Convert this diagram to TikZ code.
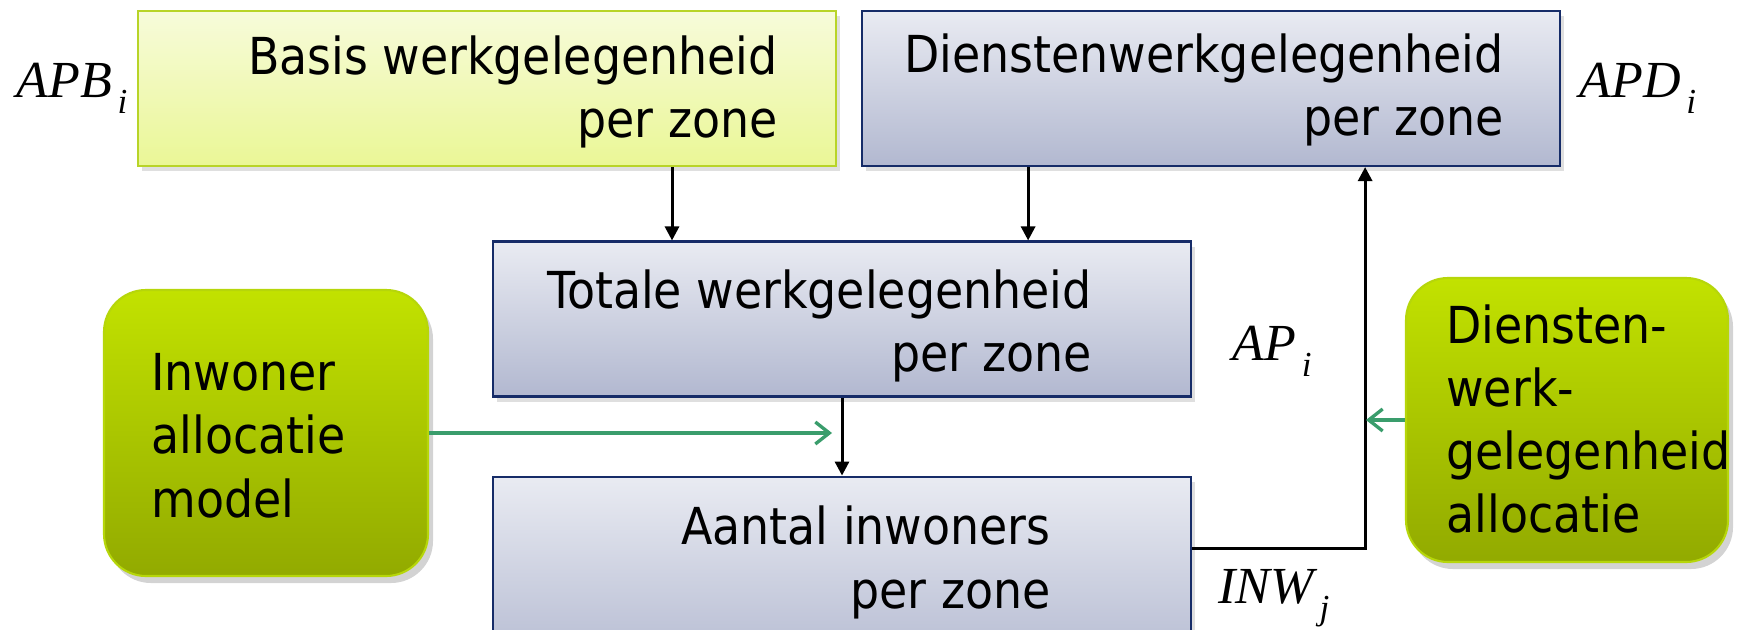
\documentclass[tikz,border=0pt]{standalone}
\usepackage{fontspec}
\setmainfont{DejaVu Sans Condensed}
\newfontfamily\varfont{Liberation Serif}
\usetikzlibrary{positioning,arrows.meta,shadows}

\definecolor{geelboven}{RGB}{247,251,218}
\definecolor{geelonder}{RGB}{234,247,150}
\definecolor{geelrand}{RGB}{184,212,40}
\definecolor{blauwboven}{RGB}{233,235,242}
\definecolor{blauwonder}{RGB}{178,184,208}
\definecolor{blauwrand}{RGB}{22,44,104}
\definecolor{groenboven}{RGB}{194,226,0}
\definecolor{groenonder}{RGB}{146,170,0}
\definecolor{groenrand}{RGB}{182,214,10}
\definecolor{pijlgroen}{RGB}{58,157,108}

% variabele met verlaagd subscript
\newcommand{\zvar}[2]{{\varfont\itshape\fontsize{14.8}{16}\selectfont #1\raisebox{-0.32em}{\fontsize{10}{10}\selectfont\,#2}}}

\tikzset{
  box/.style={rectangle, minimum width=6.98cm, minimum height=1.55cm, inner sep=0pt, line width=0.6pt,
    drop shadow={opacity=0.25, shadow xshift=0.04cm, shadow yshift=-0.05cm}},
  geel/.style={box, draw=geelrand, top color=geelboven, bottom color=geelonder},
  blauw/.style={box, draw=blauwrand, top color=blauwboven, bottom color=blauwonder},
  model/.style={rectangle, rounded corners=0.42cm, inner sep=0pt, line width=0.6pt, draw=groenrand,
    top color=groenboven, bottom color=groenonder,
    drop shadow={opacity=0.35, shadow xshift=0.05cm, shadow yshift=-0.07cm}},
  tekst/.style={inner sep=0pt, font=\fontsize{14.5}{18}\selectfont},
  groenpijl/.style={draw=pijlgroen, line width=0.95pt, -{Straight Barb[length=0.14cm,width=0.22cm]}}
}

\begin{document}
\begin{tikzpicture}[>={Triangle[length=0.14cm,width=0.14cm]}, line width=0.85pt]
		\useasboundingbox (0,0) rectangle (17.39,-6.29);
		\clip (0,0) rectangle (17.39,-6.29);

		\node (basis)[geel] at (4.87,-0.885) {};
		\node (diensten)[blauw, right=0.24cm of basis] {};
		\node (totale)[blauw] at (8.42,-3.19) {};
		\node (aantal)[blauw, below=0.78cm of totale, minimum height=2cm] {};

		\node (inwoner)[model, minimum width=3.24cm, minimum height=2.86cm] at (2.66,-4.33) {};
		\node (dalloc)[model, minimum width=3.22cm, minimum height=2.84cm] at (15.67,-4.20) {};

		\node (basis-t)[tekst, align=right, anchor=north east] at ([xshift=-0.58cm, yshift=-0.24cm]basis.north east) {Basis werkgelegenheid\\per zone};
		\node (diensten-t)[tekst, align=right, anchor=north east] at ([xshift=-0.56cm, yshift=-0.22cm]diensten.north east) {Dienstenwerkgelegenheid\\per zone};
		\node (totale-t)[tekst, align=right, anchor=north east] at ([xshift=-0.99cm, yshift=-0.28cm]totale.north east) {Totale werkgelegenheid\\per zone};
		\node (aantal-t)[tekst, align=right, anchor=north east] at ([xshift=-1.40cm, yshift=-0.29cm]aantal.north east) {Aantal inwoners\\per zone};

		\node (inwoner-t)[tekst, align=left, anchor=north west] at ([xshift=0.47cm, yshift=-0.63cm]inwoner.north west) {Inwoner\\allocatie\\model};
		\node (dalloc-t)[tekst, align=left, anchor=north west] at ([xshift=0.40cm, yshift=-0.26cm]dalloc.north west) {Diensten-\\werk-\\gelegenheid\\allocatie};

		\node (apb)[inner sep=0pt, anchor=base west] at (0.15,-0.97) {\zvar{APB}{i}};
		\node (apd)[inner sep=0pt, anchor=base west] at (15.78,-0.97) {\zvar{APD}{i}};
		\node (ap)[inner sep=0pt, anchor=base west] at (12.31,-3.60) {\zvar{AP}{i}};
		\node (inw)[inner sep=0pt, anchor=base west] at (12.17,-6.03) {\zvar{INW}{j}};

		\coordinate (invoer) at ([xshift=-0.1cm]totale.south |- inwoner.east);
		\coordinate (terug) at ([xshift=-0.39cm]dalloc.west);

		\draw [->]([xshift=1.85cm]basis.south) to ([xshift=1.85cm]basis.south |- totale.north);
		\draw [->]([xshift=-1.83cm]diensten.south) to ([xshift=-1.83cm]diensten.south |- totale.north);
		\draw [->](totale) to (aantal);
		\draw [->]([yshift=-0.73cm]aantal.north east) -| ([xshift=1.54cm]diensten.south);

		\draw [groenpijl](inwoner.east) to (invoer);
		\draw [groenpijl](dalloc.west) to (terug);
	\end{tikzpicture}
\end{document}
